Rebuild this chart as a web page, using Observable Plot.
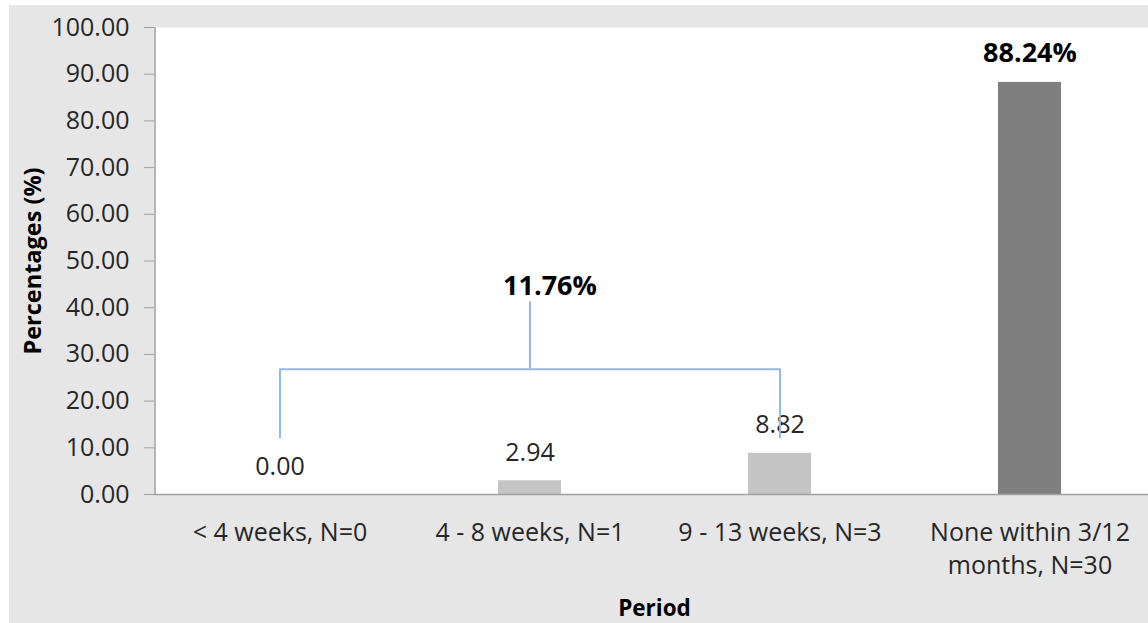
<!DOCTYPE html>
<html>
<head>
<meta charset="utf-8">
<script src="https://cdn.jsdelivr.net/npm/d3@7"></script>
<script src="https://cdn.jsdelivr.net/npm/@observablehq/plot@0.6"></script>
<style>
  html, body { margin: 0; padding: 0; background: #ffffff; }
  #chart { position: absolute; left: 9px; top: 5px; width: 1139px; height: 618px; background: #e6e6e6; overflow: hidden; }
  #chart svg { display: block; max-width: none !important; }
</style>
</head>
<body>
<div id="chart"></div>
<script>
// Time to next event, share of participants per period
const periods = ["< 4 weeks, N=0", "4 - 8 weeks, N=1", "9 - 13 weeks, N=3", "None within 3/12\nmonths, N=30"];
const percentages = [0.00, 2.94, 8.82, 88.24];
const barFills = ["#c4c4c4", "#c4c4c4", "#c4c4c4", "#7f7f7f"];
const yTicks = [0, 10, 20, 30, 40, 50, 60, 70, 80, 90, 100];

// Combined share of the three timed periods
const groupedPeriods = periods.slice(0, 3);
const groupedTotal = 11.76;

const rows = periods.map((p, i) => ({period: p, value: percentages[i], fill: barFills[i], last: i === periods.length - 1}));

// Bracket joining the timed periods (y in percentage units)
const bracketFoot = 12.2, bracketBar = 26.8, bracketStem = 41.2, bracketLabel = 44.6;
const bracket = [
  {period: groupedPeriods[0], y: bracketFoot},
  {period: groupedPeriods[0], y: bracketBar},
  {period: groupedPeriods[2], y: bracketBar},
  {period: groupedPeriods[2], y: bracketFoot}
];
const stem = [
  {period: groupedPeriods[1], y: bracketBar},
  {period: groupedPeriods[1], y: bracketStem}
];

const font = "'Open Sans', sans-serif";
const axisGray = "#a0a0a0";
// the plot area runs a little past the visible right edge of the panel
const W = 1145, H = 618, ML = 145, MR = 0, MT = 22, MB = 129;
// half a band step: distance from a band's centre to the frame's left edge
const halfStep = (W - ML - MR) / periods.length / 2;

const chart = Plot.plot({
  width: W,
  height: H,
  marginLeft: ML,
  marginRight: MR,
  marginTop: MT,
  marginBottom: MB,
  style: {fontFamily: font, background: "transparent", color: "#262626"},
  x: {domain: periods, paddingInner: 0.75, paddingOuter: 0.375, label: null},
  y: {domain: [0, 100], label: null},
  marks: [
    Plot.frame({fill: "#ffffff", stroke: null}),
    Plot.barY(rows, {x: "period", y: "value", fill: "fill"}),
    Plot.ruleY([0], {stroke: axisGray, strokeWidth: 1.5}),
    Plot.ruleX([0], {x: () => periods[0], y1: 0, y2: 100, dx: -halfStep, stroke: axisGray, strokeWidth: 1.5}),
    Plot.axisY({
      ticks: yTicks, tickFormat: d => d.toFixed(2), tickSize: 10, tickPadding: 15,
      stroke: axisGray, fontSize: 25, fill: "#262626", label: null
    }),
    Plot.axisX({
      tickSize: 0, tickPadding: 23, fontSize: 25, lineHeight: 1.32, fill: "#262626", label: null
    }),
    // value labels above each bar
    Plot.text(rows.filter(d => !d.last), {
      x: "period", y: "value", text: d => d.value.toFixed(2), dy: -28,
      fontSize: 25, fill: "#262626"
    }),
    Plot.text(rows.filter(d => d.last), {
      x: "period", y: "value", text: d => d.value.toFixed(2) + "%", dy: -29,
      fontSize: 27, fontWeight: "bold", fill: "#000000"
    }),
    // bracket for the combined share
    Plot.line(bracket, {x: "period", y: "y", stroke: "#92b9e4", strokeWidth: 2}),
    Plot.line(stem, {x: "period", y: "y", stroke: "#92b9e4", strokeWidth: 2}),
    Plot.text([groupedTotal], {
      x: () => groupedPeriods[1], y: () => bracketLabel, dx: 20,
      text: d => d.toFixed(2) + "%", fontSize: 27, fontWeight: "bold", fill: "#000000"
    }),
    // axis titles
    Plot.text(["Period"], {frameAnchor: "bottom", dy: 121, fontSize: 22.5, fontWeight: "bold", fill: "#000000"}),
    Plot.text(["Percentages (%)"], {frameAnchor: "left", textAnchor: "middle", dx: -121, rotate: -90, fontSize: 23.5, fontWeight: "bold", fill: "#000000"})
  ]
});

document.getElementById("chart").appendChild(chart);
</script>
</body>
</html>
